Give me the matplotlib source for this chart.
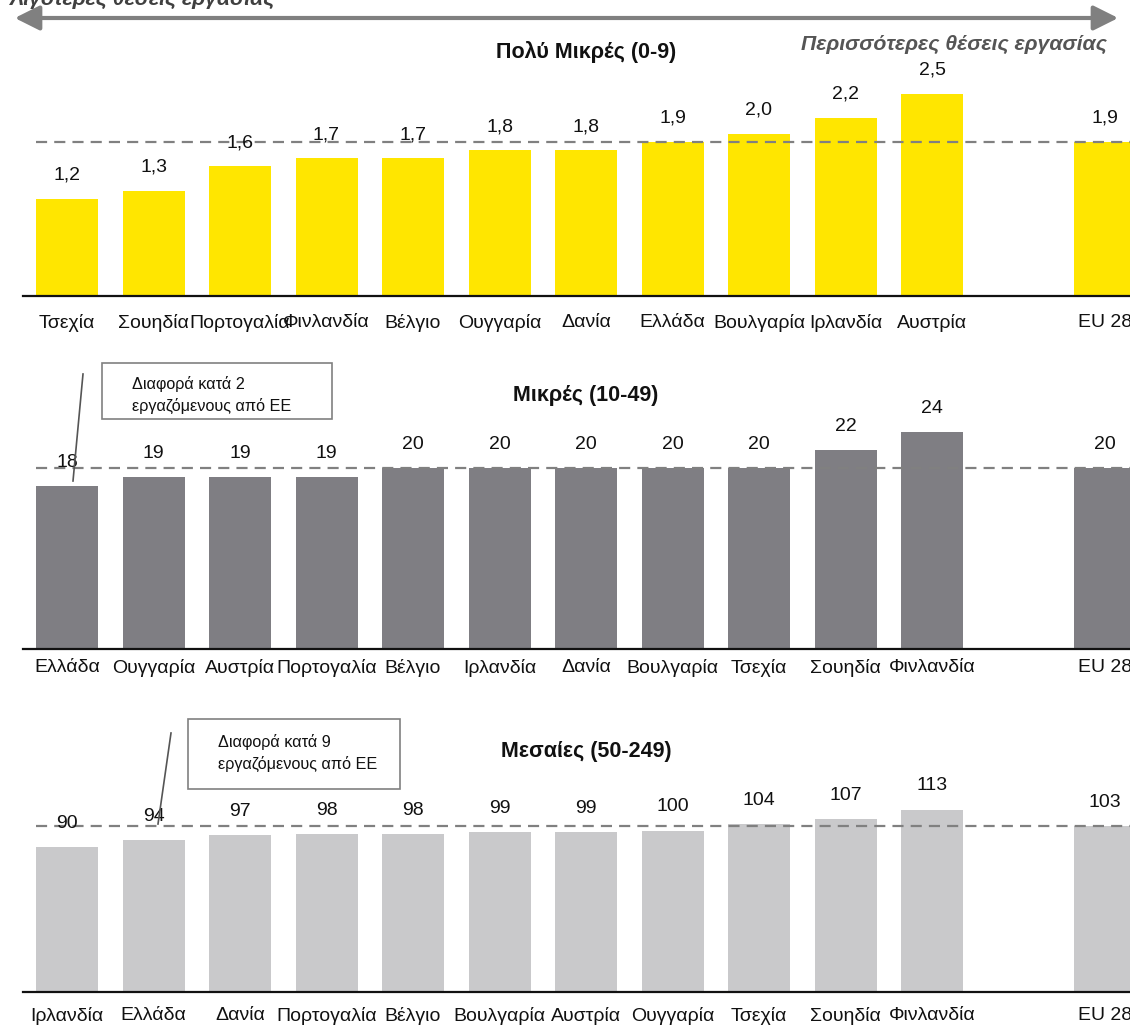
import matplotlib
matplotlib.use("Agg")
import matplotlib.pyplot as plt
from matplotlib.patches import FancyArrowPatch, Rectangle
from matplotlib.lines import Line2D

plt.rcParams['font.family'] = ['Liberation Sans Narrow', 'Liberation Sans', 'DejaVu Sans']

# ---- data -------------------------------------------------------------
micro_countries = ["Τσεχία", "Σουηδία", "Πορτογαλία", "Φινλανδία", "Βέλγιο", "Ουγγαρία",
                   "Δανία", "Ελλάδα", "Βουλγαρία", "Ιρλανδία", "Αυστρία", "EU 28"]
micro_values = [1.2, 1.3, 1.6, 1.7, 1.7, 1.8, 1.8, 1.9, 2.0, 2.2, 2.5, 1.9]

small_countries = ["Ελλάδα", "Ουγγαρία", "Αυστρία", "Πορτογαλία", "Βέλγιο", "Ιρλανδία",
                   "Δανία", "Βουλγαρία", "Τσεχία", "Σουηδία", "Φινλανδία", "EU 28"]
small_values = [18, 19, 19, 19, 20, 20, 20, 20, 20, 22, 24, 20]

medium_countries = ["Ιρλανδία", "Ελλάδα", "Δανία", "Πορτογαλία", "Βέλγιο", "Βουλγαρία",
                    "Αυστρία", "Ουγγαρία", "Τσεχία", "Σουηδία", "Φινλανδία", "EU 28"]
medium_values = [90, 94, 97, 98, 98, 99, 99, 100, 104, 107, 113, 103]

titles = ["Πολύ Μικρές (0-9)", "Μικρές (10-49)", "Μεσαίες (50-249)"]
notes = ["Διαφορά κατά 2\nεργαζόμενους από ΕΕ", "Διαφορά κατά 9\nεργαζόμενους από ΕΕ"]

# ---- figure in pixel geometry ------------------------------------------
W, H = 1130, 1027
fig = plt.figure(figsize=(W / 100, H / 100), dpi=100)


def fx(px):
    return px / W


def fy(py):
    return 1 - py / H


X_LEFT, X_RIGHT = 23, 1130
C0, PITCH = 67, 86.5
xlim = (-(C0 - X_LEFT) / PITCH, (X_RIGHT - C0) / PITCH)
BAR_W = 62 / PITCH

YELLOW = "#FFE600"
DARK = "#7F7E83"
LIGHT = "#C9C9CB"
GREY_LINE = "#808080"


def panel(base_px, top_px, px_per_unit, cats, vals, color, fmt, pad, title, title_y):
    ax = fig.add_axes([fx(X_LEFT), fy(base_px), fx(X_RIGHT - X_LEFT), (base_px - top_px) / H])
    pos = list(range(len(cats) - 1)) + [len(cats)]  # gap before EU 28
    ax.bar(pos, vals, width=BAR_W, color=color, zorder=2)
    ax.set_xlim(*xlim)
    ax.set_ylim(0, (base_px - top_px) / px_per_unit)
    eu = vals[-1]
    x0 = (pos[0] - BAR_W / 2 - xlim[0]) / (xlim[1] - xlim[0])
    ax.axhline(eu, xmin=x0, xmax=1, color=GREY_LINE, lw=1.6, ls=(0, (5, 3.2)), zorder=3)
    for p, v in zip(pos, vals):
        ax.annotate(fmt(v), (p, v), xytext=(0, 17), textcoords="offset points",
                    ha="center", va="center", fontsize=14, color="#111111", zorder=4)
    ax.set_xticks(pos)
    ax.set_xticklabels(cats, fontsize=14, color="#111111")
    ax.tick_params(axis="x", length=0, pad=pad)
    ax.set_yticks([])
    for s in ("top", "right", "left"):
        ax.spines[s].set_visible(False)
    ax.spines["bottom"].set_linewidth(1.6)
    ax.spines["bottom"].set_color("#111111")
    fig.text(fx(586), fy(title_y), title, ha="center", va="center",
             fontsize=15.5, fontweight="bold", color="#111111",
             family=['Liberation Sans', 'DejaVu Sans'])
    return ax


panel(296, 60, 81.0, micro_countries, micro_values, YELLOW,
      lambda v: f"{v:.1f}".replace(".", ","), 13, titles[0], 52)
panel(649, 372, 9.05, small_countries, small_values, DARK,
      lambda v: f"{v:d}", 7, titles[1], 395)
panel(992, 730, 1.615, medium_countries, medium_values, LIGHT,
      lambda v: f"{v:d}", 11, titles[2], 752)

# ---- direction arrow and captions --------------------------------------
arrow = FancyArrowPatch((fx(12), fy(18)), (fx(1121), fy(18)), transform=fig.transFigure,
                        arrowstyle="<|-|>,head_length=10,head_width=5",
                        color=GREY_LINE, lw=3, mutation_scale=1.5)
fig.add_artist(arrow)
fig.text(fx(10), fy(5), "Λιγότερες θέσεις εργασίας", ha="left", va="baseline",
         fontsize=15.3, fontweight="bold", style="italic", color="#404040",
         family=['Liberation Sans', 'DejaVu Sans'])
fig.text(fx(1107), fy(50), "Περισσότερες θέσεις εργασίας", ha="right", va="baseline",
         fontsize=15.3, fontweight="bold", style="italic", color="#555555",
         family=['Liberation Sans', 'DejaVu Sans'])

# ---- callout boxes ------------------------------------------------------
def callout(box, text_xy, text, leader):
    x0, y0, x1, y1 = box
    fig.add_artist(Rectangle((fx(x0), fy(y1)), fx(x1 - x0), (y1 - y0) / H,
                             transform=fig.transFigure, fill=False,
                             edgecolor=GREY_LINE, lw=1.2))
    fig.text(fx(text_xy[0]), fy(text_xy[1]), text, ha="left", va="center",
             fontsize=11.7, color="#111111", linespacing=1.45)
    (ax0, ay0), (ax1, ay1) = leader
    fig.add_artist(Line2D([fx(ax0), fx(ax1)], [fy(ay0), fy(ay1)],
                          transform=fig.transFigure, color="#555555", lw=1.2))


callout((102, 363, 332, 419), (132, 395), notes[0], ((83, 374), (73, 481)))
callout((188, 719, 400, 789), (218, 753), notes[1], ((171, 733), (158, 824)))

fig.savefig("out.png", dpi=100)
